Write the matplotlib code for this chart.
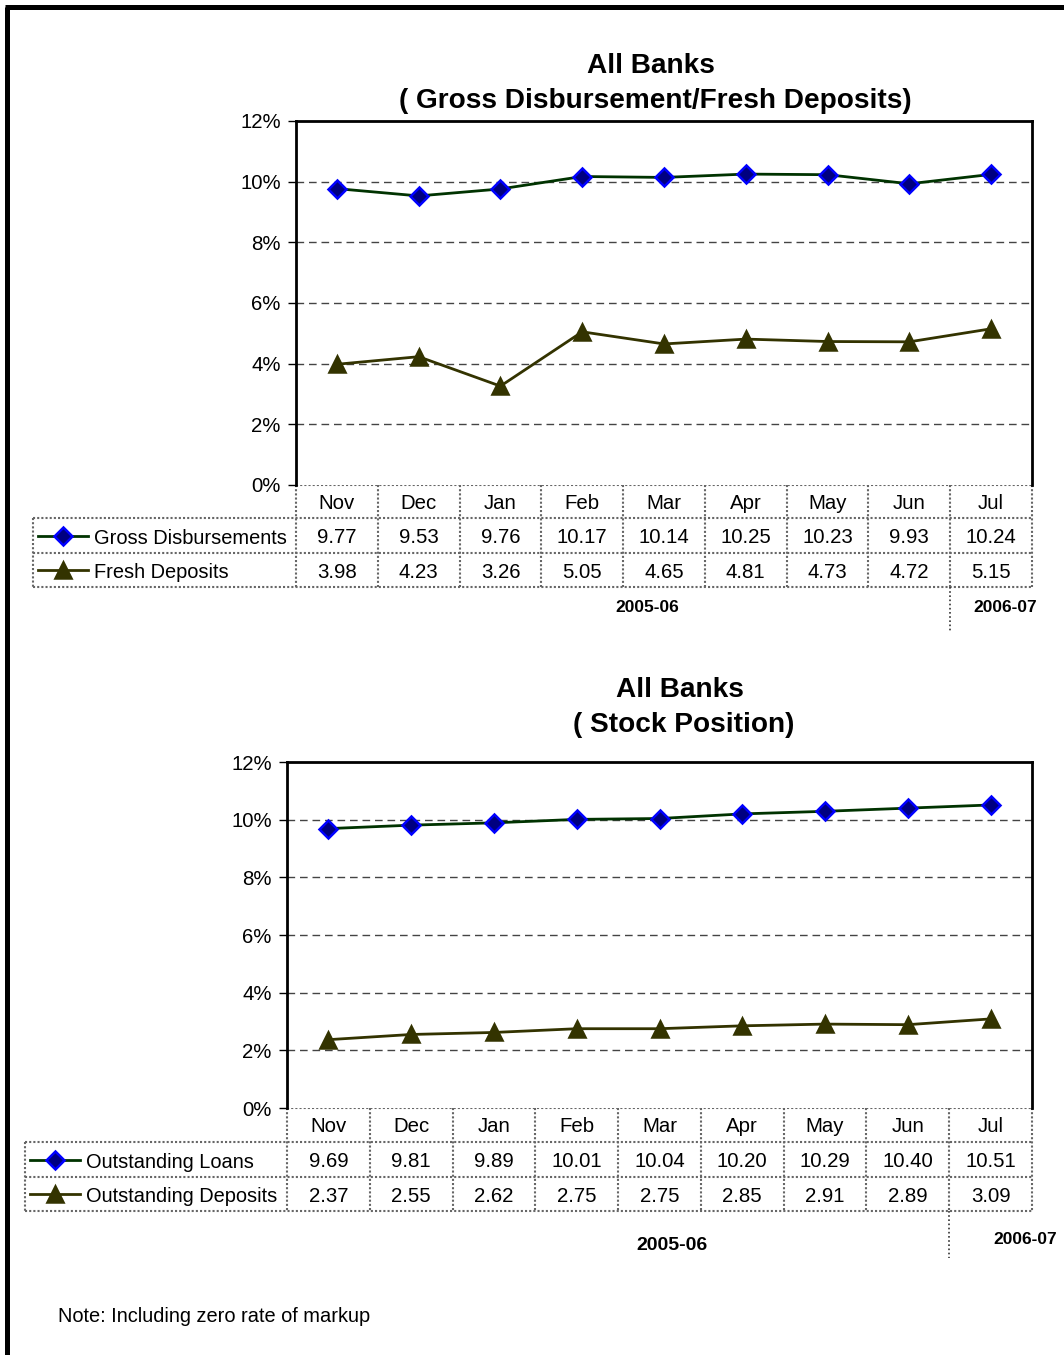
import matplotlib
matplotlib.use("Agg")
import matplotlib.pyplot as plt
from matplotlib.transforms import blended_transform_factory

plt.rcParams["font.family"] = ["Liberation Sans", "DejaVu Sans"]

W, H = 1064, 1355

months = ["Nov", "Dec", "Jan", "Feb", "Mar", "Apr", "May", "Jun", "Jul"]
yticks = [0, 2, 4, 6, 8, 10, 12]

gross_disb = [9.77, 9.53, 9.76, 10.17, 10.14, 10.25, 10.23, 9.93, 10.24]
fresh_dep = [3.98, 4.23, 3.26, 5.05, 4.65, 4.81, 4.73, 4.72, 5.15]

out_loans = [9.69, 9.81, 9.89, 10.01, 10.04, 10.20, 10.29, 10.40, 10.51]
out_dep = [2.37, 2.55, 2.62, 2.75, 2.75, 2.85, 2.91, 2.89, 3.09]

GREEN = "#003300"
OLIVE = "#333300"
TBL = "#666666"
FS = 14.7

fig = plt.figure(figsize=(W / 100, H / 100), dpi=100)
bg = fig.add_axes([0, 0, 1, 1], zorder=0)
bg.set_xlim(0, W)
bg.set_ylim(H, 0)
bg.axis("off")

# page frame (left + top only)
bg.plot([7, 7], [7, H], color="black", lw=3.6, solid_capstyle="butt")
bg.plot([5, W], [7, 7], color="black", lw=3.6, solid_capstyle="butt")


def panel(l, t, r, b, titles, title_y, title_x, series, leg_left, rows,
          per1, per2, split_bottom, per_size):
    ax = fig.add_axes([l / W, 1 - b / H, (r - l) / W, (b - t) / H], zorder=2)
    x = range(len(months))
    for name, vals, lc, mk, fc, ec in series:
        ax.plot(x, vals, color=lc, lw=2, marker=mk, ms=9.5 if mk == "D" else 11,
                markerfacecolor=fc, markeredgecolor=ec, markeredgewidth=1.8,
                zorder=3, clip_on=False)
    ax.set_xlim(-0.5, len(months) - 0.5)
    ax.set_ylim(0, 12)
    ax.set_yticks(yticks)
    ax.set_yticklabels([f"{v}%" for v in yticks], fontsize=FS)
    ax.set_xticks([])
    for v in yticks[1:-1]:
        ax.axhline(v, color="#444444", lw=1, ls=(0, (5.5, 3.5)), zorder=1)
    for s in ("left", "top", "right"):
        ax.spines[s].set_linewidth(2)
    ax.spines["bottom"].set_visible(False)
    ax.tick_params(axis="y", direction="out", length=6, width=1, pad=5)

    for i, txt in enumerate(titles):
        bg.text(title_x[i], title_y[i], txt, ha="center", va="center",
                fontsize=20.2, fontweight="bold")

    # data table below the plot
    tr = blended_transform_factory(ax.transData, bg.transData)
    h0, h1, h2, h3 = rows
    edges = [k - 0.5 for k in range(len(months) + 1)]
    kw = dict(color=TBL, lw=1.5, ls=(0, (1, 1)), zorder=1)
    bg.plot([l, r], [h0, h0], **kw)
    for yy in (h1, h2, h3):
        bg.plot([leg_left, r], [yy, yy], **kw)
    bg.plot([leg_left, leg_left], [h1, h3], **kw)
    for e in edges:
        bg.plot([e, e], [h0, h3], transform=tr, **kw)

    for i, m in enumerate(months):
        bg.text(i, (h0 + h1) / 2 + 2, m, transform=tr, ha="center", va="center",
                fontsize=FS)
    for (name, vals, lc, mk, fc, ec), (ya, yb) in zip(series, [(h1, h2), (h2, h3)]):
        yc = (ya + yb) / 2
        for i, v in enumerate(vals):
            bg.text(i, yc + 2, f"{v:.2f}", transform=tr, ha="center", va="center",
                    fontsize=FS)
        bg.plot([leg_left + 5, leg_left + 55], [yc, yc], color=lc, lw=2, zorder=3)
        bg.plot([leg_left + 30], [yc], marker=mk, ms=9.5 if mk == "D" else 11,
                markerfacecolor=fc, markeredgecolor=ec, markeredgewidth=1.8,
                zorder=4, color=lc)
        bg.text(leg_left + 61, yc + 3, name, ha="left", va="center", fontsize=14.4)

    # fiscal year labels
    bg.plot([len(months) - 1.5] * 2, [h3, split_bottom], transform=tr,
            color="#333333", lw=1.2, ls=(0, (1, 1.5)))
    bg.text(per1[0], per1[1], "2005-06", ha="center", va="center",
            fontsize=per_size, fontweight="bold")
    bg.text(per2[0], per2[1], "2006-07", ha="center", va="center",
            fontsize=12.5, fontweight="bold")
    return ax


panel(296, 121, 1032, 485,
      ["All Banks", "( Gross Disbursement/Fresh Deposits)"], [66, 101], [651, 655],
      [("Gross Disbursements", gross_disb, GREEN, "D", "#000080", "#0000ff"),
       ("Fresh Deposits", fresh_dep, OLIVE, "^", OLIVE, OLIVE)],
      33, (485, 518, 553, 587), (647, 607), (1005, 607), 632, 12.5)

panel(287, 762, 1032, 1108,
      ["All Banks", "( Stock Position)"], [690, 725], [680, 684],
      [("Outstanding Loans", out_loans, GREEN, "D", "#000080", "#0000ff"),
       ("Outstanding Deposits", out_dep, OLIVE, "^", OLIVE, OLIVE)],
      25, (1108, 1142, 1177, 1211), (672, 1245), (1025, 1240), 1258, 14)

bg.text(58, 1316, "Note: Including zero rate of markup", ha="left", va="center",
        fontsize=14.4)

fig.savefig("out.png", dpi=100)
